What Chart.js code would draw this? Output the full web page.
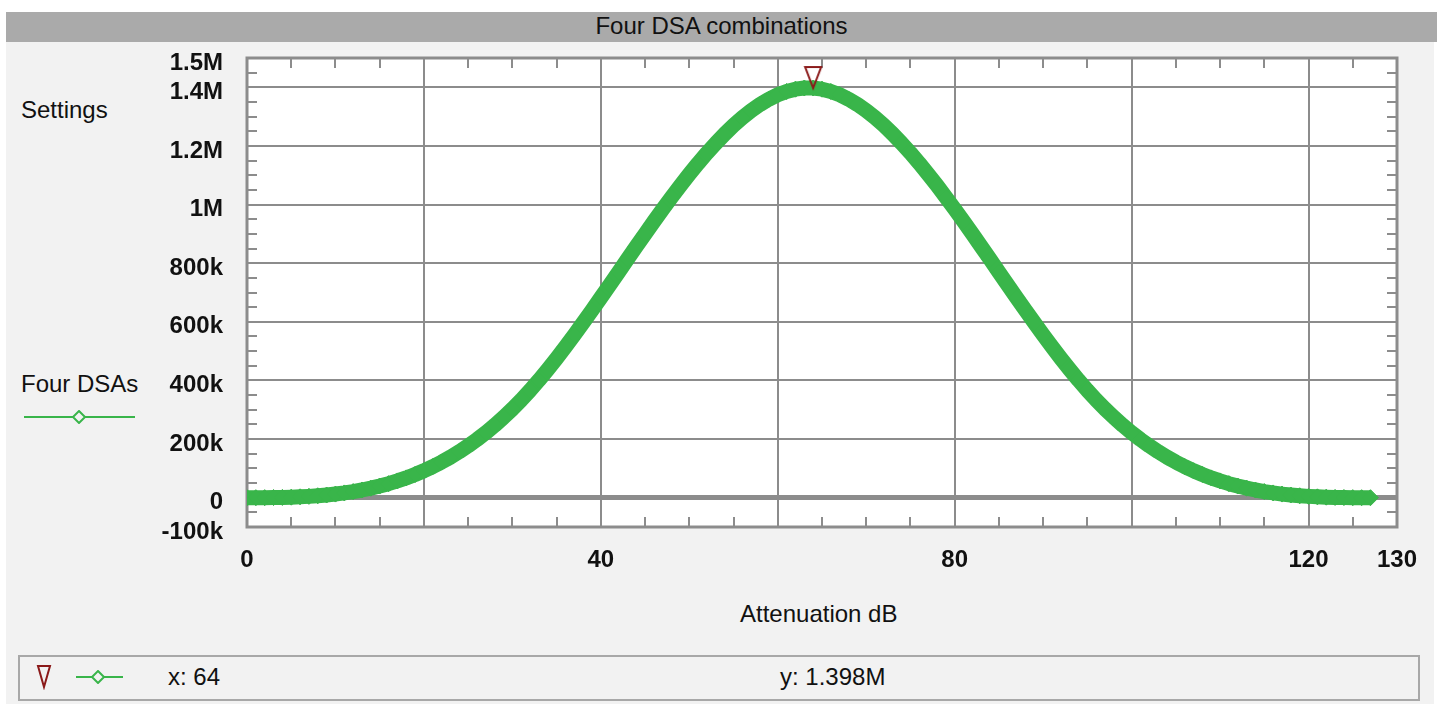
<!DOCTYPE html>
<html>
<head>
<meta charset="utf-8">
<title>Four DSA combinations</title>
<script src="https://cdn.jsdelivr.net/npm/chart.js@4.4.1/dist/chart.umd.min.js"></script>
<style>
  html, body { margin: 0; padding: 0; background: #fff; }
  body {
    width: 1437px; height: 709px; position: relative; overflow: hidden;
    font-family: 'Liberation Sans', Arial, sans-serif; color: #111;
  }
  #panel    { position: absolute; left: 6px; top: 12px; width: 1428px; height: 692px; background: #f2f2f2; }
  #titleBar { position: absolute; left: 6px; top: 12px; width: 1431px; height: 30px; background: #aaa;
              text-align: center; font-size: 24px; line-height: 27px; }
  #chart    { position: absolute; left: 0; top: 0; }
  .txt      { position: absolute; font-size: 24px; line-height: 24px; white-space: nowrap; }
  .icon     { position: absolute; }
  #readout  { position: absolute; left: 18px; top: 655px; width: 1398px; height: 42px; border: 2px solid #a8a8a8; }
</style>
</head>
<body>
<div id="panel"></div>
<div id="titleBar">Four DSA combinations</div>

<div class="txt" style="left:21px; top:98px">Settings</div>
<div class="txt" style="left:21px; top:372px">Four DSAs</div>
<svg class="icon" width="112" height="14" style="left:24px; top:410px">
  <line x1="0" y1="7" x2="111" y2="7" stroke="#39b54a" stroke-width="2"/>
  <path d="M55 1 L61 7 L55 13 L49 7 Z" fill="#f2f2f2" stroke="#39b54a" stroke-width="2"/>
</svg>

<div class="txt" style="left:740px; top:602px">Attenuation dB</div>

<div id="readout"></div>
<svg class="icon" width="16" height="26" style="left:36px; top:664px">
  <path d="M2 2 L14 2 L8 23 Z" fill="none" stroke="#8b1a1a" stroke-width="2"/>
</svg>
<svg class="icon" width="48" height="14" style="left:76px; top:670px">
  <line x1="0" y1="7" x2="47" y2="7" stroke="#39b54a" stroke-width="2"/>
  <path d="M22 1 L28 7 L22 13 L16 7 Z" fill="#f2f2f2" stroke="#39b54a" stroke-width="2"/>
</svg>
<div class="txt" id="readX" style="left:168px; top:665px">x: 64</div>
<div class="txt" id="readY" style="left:780px; top:665px">y: 1.398M</div>

<canvas id="chart" width="1437" height="709"></canvas>

<script>
/* ================================================================
   DATA — number of settings per total attenuation (four DSAs)
   ================================================================ */
const attenuationDb = [
  0, 1, 2, 3, 4, 5, 6, 7, 8, 9, 10, 11, 12, 13, 14, 15,
  16, 17, 18, 19, 20, 21, 22, 23, 24, 25, 26, 27, 28, 29, 30, 31,
  32, 33, 34, 35, 36, 37, 38, 39, 40, 41, 42, 43, 44, 45, 46, 47,
  48, 49, 50, 51, 52, 53, 54, 55, 56, 57, 58, 59, 60, 61, 62, 63,
  64, 65, 66, 67, 68, 69, 70, 71, 72, 73, 74, 75, 76, 77, 78, 79,
  80, 81, 82, 83, 84, 85, 86, 87, 88, 89, 90, 91, 92, 93, 94, 95,
  96, 97, 98, 99, 100, 101, 102, 103, 104, 105, 106, 107, 108, 109, 110, 111,
  112, 113, 114, 115, 116, 117, 118, 119, 120, 121, 122, 123, 124, 125, 126, 127
];

const combinationCounts = [
  1, 35, 165, 455, 969, 1771, 2925, 4495,
  6545, 9139, 12341, 16215, 20825, 26235, 32509, 39711,
  47905, 57155, 67525, 79079, 91881, 105995, 121485, 138415,
  156849, 176851, 198485, 221815, 246905, 273819, 302621, 333375,
  366141, 400855, 437329, 475371, 514789, 555391, 596985, 639379,
  682381, 725799, 769441, 813115, 856629, 899791, 942409, 984291,
  1025245, 1065079, 1103601, 1140619, 1175941, 1209375, 1240729, 1269811,
  1296429, 1320391, 1341505, 1359579, 1374421, 1385839, 1393641, 1397635,
  1397635, 1393641, 1385839, 1374421, 1359579, 1341505, 1320391, 1296429,
  1269811, 1240729, 1209375, 1175941, 1140619, 1103601, 1065079, 1025245,
  984291, 942409, 899791, 856629, 813115, 769441, 725799, 682381,
  639379, 596985, 555391, 514789, 475371, 437329, 400855, 366141,
  333375, 302621, 273819, 246905, 221815, 198485, 176851, 156849,
  138415, 121485, 105995, 91881, 79079, 67525, 57155, 47905,
  39711, 32509, 26235, 20825, 16215, 12341, 9139, 6545,
  4495, 2925, 1771, 969, 455, 165, 35, 1
];

/* cursor marker (x: 64, y: 1.398M) */
const markerX = [64];
const markerY = [1397635];

/* axes */
const xTickValues = [0, 20, 40, 60, 80, 100, 120, 130];
const xTickLabels = ['0', '', '40', '', '80', '', '120', '130'];
const yTickValues = [-100000, 0, 200000, 400000, 600000, 800000, 1000000, 1200000, 1400000, 1500000];
const yTickLabels = ['-100k', '0', '200k', '400k', '600k', '800k', '1M', '1.2M', '1.4M', '1.5M'];
const xMinorStep  = 5;
const yMinorStep  = 50000;

/* ── STYLE ───────────────────────────────────────────────── */
const GREEN     = '#39b54a';
const GRID      = '#8c8c8c';
const FONT      = "'Liberation Sans', Arial, sans-serif";
const TICK_FONT = { family: FONT, size: 24, weight: 'bold' };

/* marker: inverted triangle with its tip on the point */
const markerImage = document.createElement('canvas');
markerImage.width  = 20;
markerImage.height = 48;
(() => {
  const c = markerImage.getContext('2d');
  c.strokeStyle = '#8b1a1a';
  c.lineWidth   = 2;
  c.beginPath();
  c.moveTo(2, 3);
  c.lineTo(18, 3);
  c.lineTo(10, 24);
  c.closePath();
  c.stroke();
})();

/* ================================================================
   PLOT DECORATION — white area, frame, inward minor ticks
   ================================================================ */
const plotFrame = {
  id: 'plotFrame',
  beforeDraw(chart) {
    const { ctx, chartArea: a } = chart;
    ctx.save();
    ctx.fillStyle = '#fff';
    ctx.fillRect(a.left, a.top, a.right - a.left, a.bottom - a.top);
    ctx.restore();
  },
  beforeDatasetsDraw(chart) {
    const { ctx, chartArea: a, scales } = chart;
    ctx.save();
    ctx.strokeStyle = GRID;
    ctx.lineWidth = 2;
    ctx.beginPath();
    for (let v = scales.x.min; v <= scales.x.max; v += xMinorStep) {
      const px = Math.round(scales.x.getPixelForValue(v));
      ctx.moveTo(px, a.top);      ctx.lineTo(px, a.top + 10);
      ctx.moveTo(px, a.bottom);   ctx.lineTo(px, a.bottom - 10);
    }
    for (let v = scales.y.min; v <= scales.y.max; v += yMinorStep) {
      const py = Math.round(scales.y.getPixelForValue(v));
      ctx.moveTo(a.left, py);     ctx.lineTo(a.left + 10, py);
      ctx.moveTo(a.right, py);    ctx.lineTo(a.right - 10, py);
    }
    ctx.stroke();
    ctx.lineWidth = 3;
    ctx.strokeRect(a.left, a.top, a.right - a.left, a.bottom - a.top);
    ctx.restore();
  }
};

/* ================================================================
   CHART
   ================================================================ */
new Chart(document.getElementById('chart'), {
  type: 'line',
  data: {
    datasets: [
      {
        label: 'Four DSAs',
        data: attenuationDb.map((x, i) => ({ x, y: combinationCounts[i] })),
        borderColor: GREEN,
        borderWidth: 15,
        borderJoinStyle: 'round',
        pointStyle: 'rectRot',
        pointRadius: 8,
        pointBackgroundColor: GREEN,
        pointBorderColor: GREEN,
        pointBorderWidth: 1,
        order: 1,
      },
      {
        label: 'Marker',
        data: markerX.map((x, i) => ({ x, y: markerY[i] })),
        showLine: false,
        pointStyle: markerImage,
        pointRadius: 5,
        order: 0,
      }
    ]
  },
  options: {
    responsive: false,
    animation: false,
    layout: { padding: { left: 0, top: 58, right: 40, bottom: 0 } },
    plugins: { legend: { display: false }, tooltip: { enabled: false } },
    scales: {
      x: {
        type: 'linear',
        min: 0,
        max: 130,
        afterBuildTicks: s => { s.ticks = xTickValues.map(v => ({ value: v })); },
        afterFit: s => { s.height = 182; s.paddingLeft = 0; s.paddingRight = 0; },
        ticks: {
          autoSkip: false, maxRotation: 0, padding: 19, color: '#111', font: TICK_FONT,
          callback: (v, i) => xTickLabels[i]
        },
        grid: {
          drawTicks: false,
          color: c => (c.tick && (c.tick.value === 0 || c.tick.value === 130)) ? 'rgba(0,0,0,0)' : GRID,
          lineWidth: 2
        },
        border: { display: false }
      },
      y: {
        type: 'linear',
        min: -100000,
        max: 1500000,
        afterBuildTicks: s => { s.ticks = yTickValues.map(v => ({ value: v })); },
        afterFit: s => { s.width = 247; s.paddingTop = 0; s.paddingBottom = 0; },
        ticks: {
          autoSkip: false, padding: 24, labelOffset: 5, color: '#111', font: TICK_FONT,
          callback: (v, i) => yTickLabels[i]
        },
        grid: {
          drawTicks: false,
          color: c => (c.tick && (c.tick.value === -100000 || c.tick.value === 1500000)) ? 'rgba(0,0,0,0)' : GRID,
          lineWidth: c => (c.tick && c.tick.value === 0) ? 5 : 2
        },
        border: { display: false }
      }
    }
  },
  plugins: [plotFrame]
});
</script>
</body>
</html>
